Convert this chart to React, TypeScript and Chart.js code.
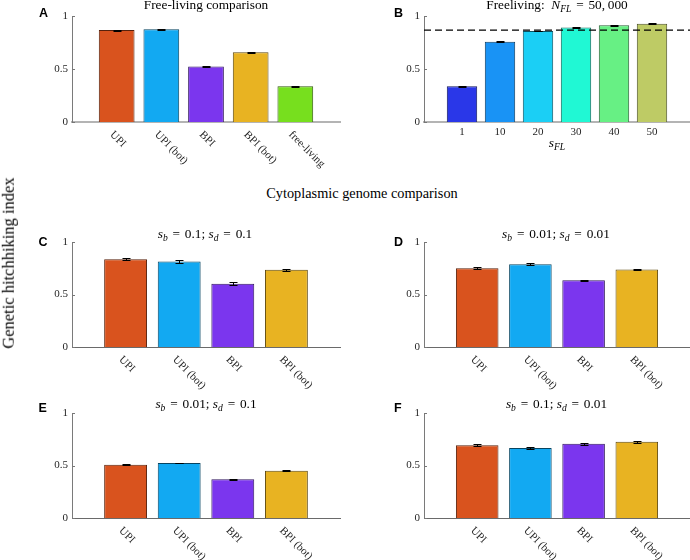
import React, { useEffect, useRef } from "react";
import { Chart, registerables } from "chart.js";

Chart.register(...registerables);

const SERIF = '"Liberation Serif", "Times New Roman", Times, serif';
const SANS = '"Liberation Sans", Arial, Helvetica, sans-serif';

// ---------------- data ----------------
const freeLivingCategories = ["UPI", "UPI (bot)", "BPI", "BPI (bot)", "free-living"];
const freeLivingValues = [0.867, 0.876, 0.523, 0.658, 0.338];
const freeLivingErrors = [0.004, 0.004, 0.004, 0.004, 0.004];

const sFLLabels = ["1", "10", "20", "30", "40", "50"];
const sFLValues = [0.338, 0.757, 0.859, 0.891, 0.913, 0.927];
const sFLErrors = [0.004, 0.003, 0.003, 0.004, 0.003, 0.003];
const upiReferenceLevel = 0.866;

const cytoCategories = ["UPI", "UPI (bot)", "BPI", "BPI (bot)"];
const cValues = [0.836, 0.814, 0.603, 0.735];
const cErrors = [0.01, 0.01, 0.015, 0.01];
const dValues = [0.751, 0.789, 0.635, 0.738];
const dErrors = [0.01, 0.01, 0.005, 0.006];
const eValues = [0.508, 0.524, 0.368, 0.451];
const eErrors = [0.005, 0.004, 0.006, 0.004];
const fValues = [0.693, 0.667, 0.708, 0.727];
const fErrors = [0.008, 0.008, 0.01, 0.01];

const yTickValues = [0, 0.5, 1];

// ---------------- styles ----------------
const strategyColors = ["#D9531E", "#12A9F2", "#7B36EE", "#E8B322", "#77DF1E"];
const sFLColors = ["#2A37E8", "#1993F5", "#1BCFF5", "#20F8D4", "#67F084", "#BECB65"];

function darken(hex: string, f = 0.4) {
  const n = parseInt(hex.slice(1), 16);
  const r = Math.round(((n >> 16) & 255) * f);
  const g = Math.round(((n >> 8) & 255) * f);
  const b = Math.round((n & 255) * f);
  return `rgb(${r},${g},${b})`;
}

type Box = { l: number; t: number; r: number; b: number };
type PanelProps = {
  canvas: Box;
  area: Box;
  labels: string[];
  values: number[];
  errors: number[];
  colors: string[];
  rotated: boolean;
  xAxisColor: string;
  xAxisWidth: number;
  refLevel?: number;
};

function Panel(p: PanelProps) {
  const ref = useRef<HTMLCanvasElement>(null);
  const w = p.canvas.r - p.canvas.l;
  const h = p.canvas.b - p.canvas.t;
  useEffect(() => {
    const n = p.labels.length;
    const Y_W = 30;
    const X_H = p.rotated ? 0 : 20;
    const padding = {
      left: p.area.l - p.canvas.l - Y_W,
      right: p.canvas.r - p.area.r,
      top: p.area.t - p.canvas.t,
      bottom: p.canvas.b - p.area.b - X_H,
    };
    const datasets: any[] = [
      {
        type: "bar",
        data: p.values.map((v, i) => ({ x: i + 1, y: v })),
        backgroundColor: p.colors,
        borderColor: p.colors.map((c) => darken(c)),
        borderWidth: 1,
        barPercentage: 1,
        categoryPercentage: 0.8,
        order: 2,
      },
    ];
    if (p.refLevel !== undefined) {
      datasets.push({
        type: "line",
        data: [
          { x: 0, y: p.refLevel },
          { x: n + 1, y: p.refLevel },
        ],
        borderColor: "#000",
        borderWidth: 1.3,
        borderDash: [7, 4],
        pointRadius: 0,
        order: 1,
      });
    }
    const decor = {
      id: "decor",
      afterDatasetsDraw(chart: any) {
        const { ctx, scales } = chart;
        const x = scales.x;
        const y = scales.y;
        ctx.save();
        ctx.strokeStyle = "#000";
        ctx.lineWidth = 1;
        p.values.forEach((v, i) => {
          const e = p.errors[i];
          const px = Math.round(x.getPixelForValue(i + 1)) + 0.5;
          const y1 = Math.round(y.getPixelForValue(v + e)) + 0.5;
          const y2 = Math.round(y.getPixelForValue(v - e)) + 0.5;
          ctx.beginPath();
          ctx.moveTo(px, y1);
          ctx.lineTo(px, y2);
          ctx.moveTo(px - 4, y1);
          ctx.lineTo(px + 4, y1);
          ctx.moveTo(px - 4, y2);
          ctx.lineTo(px + 4, y2);
          ctx.stroke();
        });
        ctx.restore();
      },
      afterDraw(chart: any) {
        const { ctx, scales, chartArea } = chart;
        const x = scales.x;
        const y = scales.y;
        ctx.save();
        ctx.strokeStyle = "#777";
        ctx.lineWidth = 1;
        yTickValues.forEach((t) => {
          const py = Math.round(y.getPixelForValue(t)) + 0.5;
          ctx.beginPath();
          ctx.moveTo(chartArea.left, py);
          ctx.lineTo(chartArea.left + 3, py);
          ctx.stroke();
        });
        if (p.rotated) {
          ctx.fillStyle = "#262626";
          ctx.font = `11px ${SERIF}`;
          ctx.textAlign = "left";
          ctx.textBaseline = "middle";
          p.labels.forEach((lab, i) => {
            const px = x.getPixelForValue(i + 1);
            ctx.save();
            ctx.translate(px - 5, chartArea.bottom + 11);
            ctx.rotate(Math.PI / 4);
            ctx.fillText(lab, 0, 0);
            ctx.restore();
          });
        }
        ctx.restore();
      },
    };
    const chart = new Chart(ref.current as HTMLCanvasElement, {
      type: "bar",
      data: { datasets },
      options: {
        animation: false,
        responsive: false,
        maintainAspectRatio: false,
        layout: { padding },
        plugins: {
          legend: { display: false },
          tooltip: { enabled: false },
          title: { display: false },
        },
        scales: {
          x: {
            type: "linear",
            min: 0,
            max: n + 1,
            offset: false,
            grid: { display: false, drawTicks: false, offset: false },
            border: { display: true, color: p.xAxisColor, width: p.xAxisWidth },
            ticks: {
              display: !p.rotated,
              autoSkip: false,
              maxRotation: 0,
              minRotation: 0,
              padding: 4,
              color: "#262626",
              font: { family: SERIF, size: 11 },
              callback: (val: any) => p.labels[Number(val) - 1] ?? "",
            },
            afterBuildTicks: (s: any) => {
              s.ticks = p.labels.map((_, i) => ({ value: i + 1 }));
            },
            afterFit: (s: any) => {
              s.height = X_H;
            },
          },
          y: {
            min: 0,
            max: 1,
            grid: { display: false, drawTicks: false },
            border: { display: true, color: "#7a7a7a", width: 1 },
            ticks: {
              padding: 4,
              color: "#262626",
              font: { family: SERIF, size: 11 },
              callback: (val: any) => String(val),
            },
            afterBuildTicks: (s: any) => {
              s.ticks = yTickValues.map((v) => ({ value: v }));
            },
            afterFit: (s: any) => {
              s.width = Y_W;
            },
          },
        },
      } as any,
      plugins: [decor],
    });
    return () => chart.destroy();
  }, []);
  return (
    <canvas
      ref={ref}
      width={w}
      height={h}
      style={{ position: "absolute", left: p.canvas.l, top: p.canvas.t, width: w, height: h }}
    />
  );
}

type TxtProps = {
  x: number;
  base: number;
  size: number;
  family?: string;
  weight?: number;
  align?: "left" | "center";
  children: React.ReactNode;
};

function Txt({ x, base, size, family = SERIF, weight = 400, align = "center", children }: TxtProps) {
  const asc = family === SANS ? 0.8465 : 0.8375;
  return (
    <div
      style={{
        position: "absolute",
        left: x,
        top: base - asc * size,
        fontSize: size,
        lineHeight: `${size}px`,
        fontFamily: family,
        fontWeight: weight,
        whiteSpace: "nowrap",
        color: "#000",
        transform: align === "center" ? "translateX(-50%)" : undefined,
      }}
    >
      {children}
    </div>
  );
}

const subStyle: React.CSSProperties = { fontSize: "0.72em", verticalAlign: "-0.35em", lineHeight: 0, fontStyle: "italic" };

function Sub({ v, s }: { v: string; s: string }) {
  return (
    <span>
      <i>{v}</i>
      <sub style={subStyle}>{s}</sub>
    </span>
  );
}

function Eq() {
  return <span style={{ margin: "0 1.5px" }}>=</span>;
}

function SelTitle({ b, d }: { b: string; d: string }) {
  return (
    <span>
      <Sub v="s" s="b" /> <Eq /> {b}; <Sub v="s" s="d" /> <Eq /> {d}
    </span>
  );
}

export default function App() {
  return (
    <div
      style={{
        position: "absolute",
        left: 0,
        top: 0,
        width: 690,
        height: 560,
        background: "#fff",
        overflow: "hidden",
      }}
    >
      <Panel
        canvas={{ l: 0, t: 0, r: 345, b: 180 }}
        area={{ l: 72, t: 16, r: 340, b: 122 }}
        labels={freeLivingCategories}
        values={freeLivingValues}
        errors={freeLivingErrors}
        colors={strategyColors}
        rotated={true}
        xAxisColor="#b4b4b4"
        xAxisWidth={2}
      />
      <Panel
        canvas={{ l: 345, t: 0, r: 690, b: 180 }}
        area={{ l: 424, t: 16, r: 690, b: 122 }}
        labels={sFLLabels}
        values={sFLValues}
        errors={sFLErrors}
        colors={sFLColors}
        rotated={false}
        xAxisColor="#b4b4b4"
        xAxisWidth={2}
        refLevel={upiReferenceLevel}
      />
      <Panel
        canvas={{ l: 0, t: 225, r: 345, b: 400 }}
        area={{ l: 72, t: 242, r: 340, b: 347 }}
        labels={cytoCategories}
        values={cValues}
        errors={cErrors}
        colors={strategyColors}
        rotated={true}
        xAxisColor="#6a6a6a"
        xAxisWidth={1}
      />
      <Panel
        canvas={{ l: 345, t: 225, r: 690, b: 400 }}
        area={{ l: 424, t: 242, r: 690, b: 347 }}
        labels={cytoCategories}
        values={dValues}
        errors={dErrors}
        colors={strategyColors}
        rotated={true}
        xAxisColor="#6a6a6a"
        xAxisWidth={1}
      />
      <Panel
        canvas={{ l: 0, t: 395, r: 345, b: 560 }}
        area={{ l: 72, t: 413, r: 340, b: 518 }}
        labels={cytoCategories}
        values={eValues}
        errors={eErrors}
        colors={strategyColors}
        rotated={true}
        xAxisColor="#6a6a6a"
        xAxisWidth={1}
      />
      <Panel
        canvas={{ l: 345, t: 395, r: 690, b: 560 }}
        area={{ l: 424, t: 413, r: 690, b: 518 }}
        labels={cytoCategories}
        values={fValues}
        errors={fErrors}
        colors={strategyColors}
        rotated={true}
        xAxisColor="#6a6a6a"
        xAxisWidth={1}
      />

      {/* panel letters */}
      <Txt x={39} base={17.5} size={12.5} family={SANS} weight={700} align="left">A</Txt>
      <Txt x={394} base={17.5} size={12.5} family={SANS} weight={700} align="left">B</Txt>
      <Txt x={38.5} base={246.5} size={12.5} family={SANS} weight={700} align="left">C</Txt>
      <Txt x={394} base={246.5} size={12.5} family={SANS} weight={700} align="left">D</Txt>
      <Txt x={38.5} base={413} size={12.5} family={SANS} weight={700} align="left">E</Txt>
      <Txt x={394} base={413} size={12.5} family={SANS} weight={700} align="left">F</Txt>

      {/* titles */}
      <Txt x={206} base={9.5} size={13.3}>Free-living comparison</Txt>
      <Txt x={557} base={9.5} size={13.3}>
        Freeliving:&nbsp; <Sub v="N" s="FL" /> <Eq /> 50,{"\u2009"}000
      </Txt>
      <Txt x={557} base={147.5} size={13.3}>
        <Sub v="s" s="FL" />
      </Txt>
      <Txt x={362} base={198} size={14.3}>Cytoplasmic genome comparison</Txt>
      <Txt x={205} base={238} size={13.3}>
        <SelTitle b="0.1" d="0.1" />
      </Txt>
      <Txt x={556} base={238} size={13.3}>
        <SelTitle b="0.01" d="0.01" />
      </Txt>
      <Txt x={206} base={408.3} size={13.3}>
        <SelTitle b="0.01" d="0.1" />
      </Txt>
      <Txt x={556.5} base={408.3} size={13.3}>
        <SelTitle b="0.1" d="0.01" />
      </Txt>

      {/* shared y label */}
      <div
        style={{
          position: "absolute",
          left: 8.5,
          top: 263,
          fontFamily: SERIF,
          fontSize: 16.5,
          lineHeight: "16.5px",
          whiteSpace: "nowrap",
          color: "#000",
          transform: "translate(-50%, -50%) rotate(-90deg)",
        }}
      >
        Genetic hitchhiking index
      </div>
    </div>
  );
}
